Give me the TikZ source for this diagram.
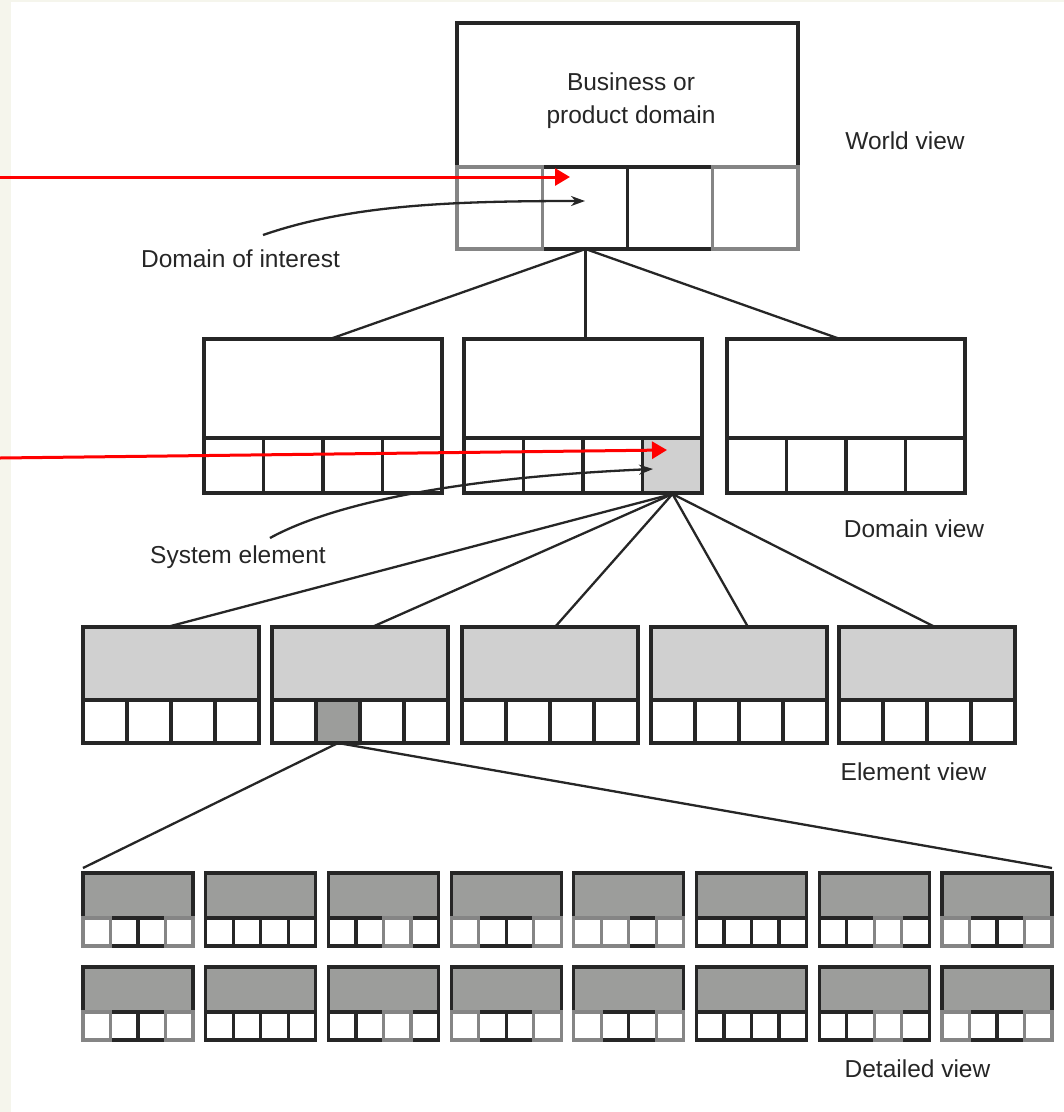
\documentclass[tikz,border=0pt]{standalone}
\usepackage{fontspec}
\setmainfont{Liberation Sans}
\usetikzlibrary{arrows.meta}

\definecolor{ink}{HTML}{262626}
\definecolor{paper}{HTML}{F5F5EC}
\definecolor{lightfill}{HTML}{D0D0D0}
\definecolor{darkfill}{HTML}{9C9D9B}
\definecolor{edgegray}{HTML}{858585}
\definecolor{pointer}{HTML}{FF0000}

\tikzset{
  frame/.style={draw=ink, line width=3.2pt, inner sep=0pt, outer sep=0pt, anchor=north west},
  divider/.style={draw=ink, line width=3.2pt},
  faint/.style={draw=edgegray, line width=3.2pt},
  link/.style={draw=ink, line width=2.3pt},
  label/.style={text=ink, font=\fontsize{24.5}{33}\selectfont, inner sep=0pt, anchor=base},
  redarrow/.style={draw=pointer, line width=3pt, -{Triangle[length=15pt,width=17pt]}},
  callout/.style={draw=ink, line width=2.3pt, -{Stealth[length=14pt,width=10pt]}},
}

% #1 name, #2 x, #3 y, #4 width, #5 upper height, #6 lower height, #7 upper fill
\newcommand\tierbox[7]{%
  \pgfmathsetmacro\tbh{#5+#6}%
  \fill[#7] (#2,#3) rectangle ({#2+#4},{#3+#5});
  \node[frame, minimum width=#4pt, minimum height=\tbh pt] (#1) at (#2,#3) {};
  \draw[divider] (#2,{#3+#5}) -- ({#2+#4},{#3+#5});
  \foreach \k in {1,2,3}
    \draw[divider] ({#2+\k*#4/4},{#3+#5}) -- ({#2+\k*#4/4},{#3+#5+#6});
}

% #1 x, #2 y, #3 width, #4 height: a cell outlined in grey
\newcommand\faintcell[4]{%
  \draw[faint] (#1,#2) rectangle ({#1+#3},{#2+#4});
}

\begin{document}
\begin{tikzpicture}[x=1pt,y=-1pt]
  \useasboundingbox (0,0) rectangle (1064,1112);
  \fill[paper] (0,0) rectangle (1064,1112);
  \fill[white] (11,2) rectangle (1064,1112);

  % ---- world view ----
  \tierbox{world}{457}{23}{341}{144}{82}{white}
  \faintcell{457}{167}{85.25}{82}
  \faintcell{712.75}{167}{85.25}{82}
  \node[label, align=center, anchor=center] (worldtext) at (631,101) {Business or\\product domain};
  \node[label] (worldlbl) at (905,149) {World view};

  % ---- domain view ----
  \fill[lightfill] (643,438) rectangle (702,494);
  \tierbox{domL}{204}{339}{238}{99}{55}{white}
  \tierbox{domM}{464}{339}{238}{99}{55}{white}
  \tierbox{domR}{727}{339}{238}{99}{55}{white}
  \node[label] (domlbl) at (914,537) {Domain view};

  \coordinate (wroot) at (585.5,249);
  \coordinate (domLtop) at (330,339);
  \coordinate (domMtop) at (585.5,339);
  \coordinate (domRtop) at (840,339);
  \draw[link] (wroot) -- (domLtop);
  \draw[link] (wroot) -- (domMtop);
  \draw[link] (wroot) -- (domRtop);

  % ---- element view ----
  \fill[darkfill] (316,700) rectangle (360,743);
  \tierbox{elA}{83}{627}{176}{73}{43}{lightfill}
  \tierbox{elB}{272}{627}{176}{73}{43}{lightfill}
  \tierbox{elC}{462}{627}{176}{73}{43}{lightfill}
  \tierbox{elD}{651}{627}{176}{73}{43}{lightfill}
  \tierbox{elE}{839}{627}{176}{73}{43}{lightfill}
  \node[label] (ellbl) at (913.5,780) {Element view};

  \coordinate (droot) at (672.5,494);
  \coordinate (elAtop) at (167,627);
  \coordinate (elBtop) at (372,627);
  \coordinate (elCtop) at (555,627);
  \coordinate (elDtop) at (748,627);
  \coordinate (elEtop) at (935,627);
  \foreach \t in {elAtop,elBtop,elCtop,elDtop,elEtop}
    \draw[link] (droot) -- (\t);

  % ---- detailed view ----
  \foreach \i in {0,...,7} {
    \pgfmathsetmacro\bx{83+122.7*\i}
    \tierbox{detA\i}{\bx}{873}{110}{45}{28}{darkfill}
    \tierbox{detB\i}{\bx}{967}{110}{45}{28}{darkfill}
  }
  % grey-edged cells: box index / cell index / row top
  \foreach \b/\c/\r in {0/0/918,0/3/918,2/2/918,3/0/918,3/3/918,4/0/918,4/1/918,4/3/918,6/2/918,7/0/918,7/3/918,
                        0/0/1012,0/3/1012,2/2/1012,3/0/1012,3/3/1012,4/0/1012,4/3/1012,6/2/1012,7/0/1012,7/3/1012} {
    \pgfmathsetmacro\cx{83+122.7*\b+27.5*\c}
    \faintcell{\cx}{\r}{27.5}{28}
  }
  \node[label] (detlbl) at (917.5,1077) {Detailed view};

  \coordinate (eroot) at (338,743);
  \coordinate (detleft) at (83,868);
  \coordinate (detright) at (1052,868);
  \draw[link] (eroot) -- (detleft);
  \draw[link] (eroot) -- (detright);

  % ---- callouts ----
  \node[label] (interest) at (240.5,267) {Domain of interest};
  \coordinate (interestfrom) at (263,235);
  \coordinate (interestto) at (585,201);
  \draw[callout] (interestfrom) .. controls (350,205) and (450,201) .. (interestto);

  \node[label] (syselem) at (238,563) {System element};
  \coordinate (sysfrom) at (270,538);
  \coordinate (systo) at (653,469);
  \draw[callout] (sysfrom) .. controls (330,505) and (450,478) .. (systo);

  % ---- red pointers ----
  \coordinate (redAfrom) at (0,177);
  \coordinate (redAto) at (570,177);
  \draw[redarrow] (redAfrom) -- (redAto);
  \coordinate (redBfrom) at (0,458);
  \coordinate (redBto) at (667,450);
  \draw[redarrow] (redBfrom) -- (redBto);
\end{tikzpicture}
\end{document}
